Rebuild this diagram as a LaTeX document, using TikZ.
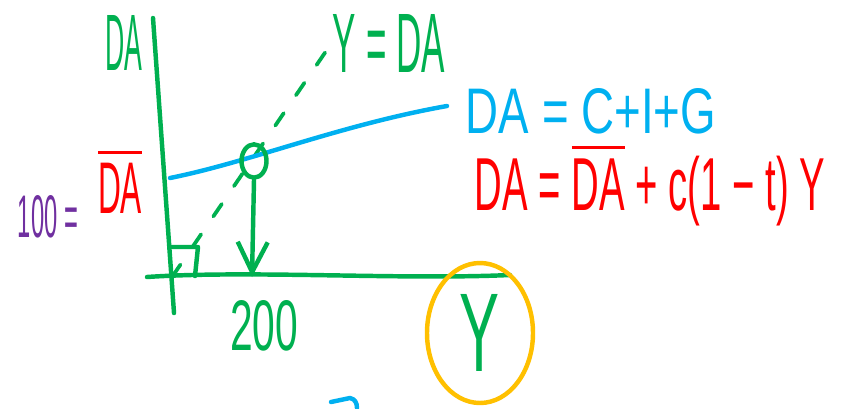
\documentclass[tikz,border=0pt]{standalone}
\usepackage{fontspec}
\setmainfont{Liberation Sans}
\usetikzlibrary{arrows.meta,positioning,shapes.geometric}
\definecolor{pgreen}{RGB}{0,176,80}
\definecolor{pblue}{RGB}{0,176,240}
\definecolor{pred}{RGB}{255,0,0}
\definecolor{ppurple}{RGB}{112,48,160}
\definecolor{porange}{RGB}{255,192,0}
% text squeezed to a given width and height (mm)
\newcommand{\fitbox}[3]{\resizebox{#1mm}{#2mm}{#3}}

\begin{document}
\begin{tikzpicture}[
    x=0.3mm, y=-0.3mm,
    stroke/.style={line width=3.8pt, line cap=round, line join=round},
    lbl/.style={anchor=base, inner sep=0pt},
    >={Straight Barb[length=9mm,width=9mm]}
  ]
  \useasboundingbox (0,0) rectangle (850,408);

  % axes
  \coordinate (yTop) at (153,18);
  \coordinate (yBot) at (174,313);
  \coordinate (xL)   at (147,277);
  \coordinate (xR)   at (510,275);
  \coordinate (O)    at (172,277);
  \coordinate (diagEnd) at (335,38);
  \coordinate (foot) at (252,277);
  \draw[stroke, pgreen] (yTop) -- (yBot);
  \draw[stroke, pgreen] (xL) .. controls (250,270) and (400,280) .. (xR);

  % 45 degree line and little square
  \draw[stroke, pgreen, line width=3.2pt, dash pattern=on 4.5mm off 6.5mm] (O) -- (diagEnd);
  \draw[stroke, pgreen] (170,247) -- (198,247) -- (195,276);

  % demand line
  \draw[stroke, pblue] (170,178) .. controls (250,162) and (340,125) .. (447,106);

  % equilibrium
  \node[ellipse, draw=pgreen, line width=3.8pt, minimum width=7.5mm, minimum height=10mm, inner sep=0pt] (eq) at (254,161) {};
  \draw[stroke, pgreen, ->] (eq.south) -- (foot);

  % labels
  \node[lbl, pgreen]  (daAxis) at (124,70)  {\fitbox{11.1}{16.5}{DA}};
  \node[lbl, pgreen]  (ydaLbl) at (389,72)  {\fitbox{33.6}{17.4}{Y = DA}};
  \node[lbl, pblue]   (daEq)   at (591,133) {\fitbox{75}{13.5}{DA = C+I+G}};
  \node[lbl, pred]    (daFull) at (650,210) {\fitbox{105}{20}{DA = $\overline{\mbox{DA}}$ + c(1 − t) Y}};
  \node[lbl, pred]    (daBar)  at (120,213) {\fitbox{13.2}{19.5}{$\overline{\mbox{DA}}$}};
  \node[lbl, ppurple] (hundred) at (48,237) {\fitbox{18}{12.6}{100 =}};
  \node[lbl, pgreen]  (twoHundred) at (264,350) {\fitbox{20.4}{15}{200}};

  % circled Y
  \node[ellipse, draw=porange, line width=3.8pt, minimum width=31.8mm, minimum height=42mm, inner sep=0pt, text=pgreen] (yCirc) at (480,333) {\fitbox{12}{23.1}{Y}};

  % stray stroke
  \draw[stroke, pblue] (331,402) -- (350,398) .. controls (355,399) and (357,403) .. (357,408);
\end{tikzpicture}
\end{document}
